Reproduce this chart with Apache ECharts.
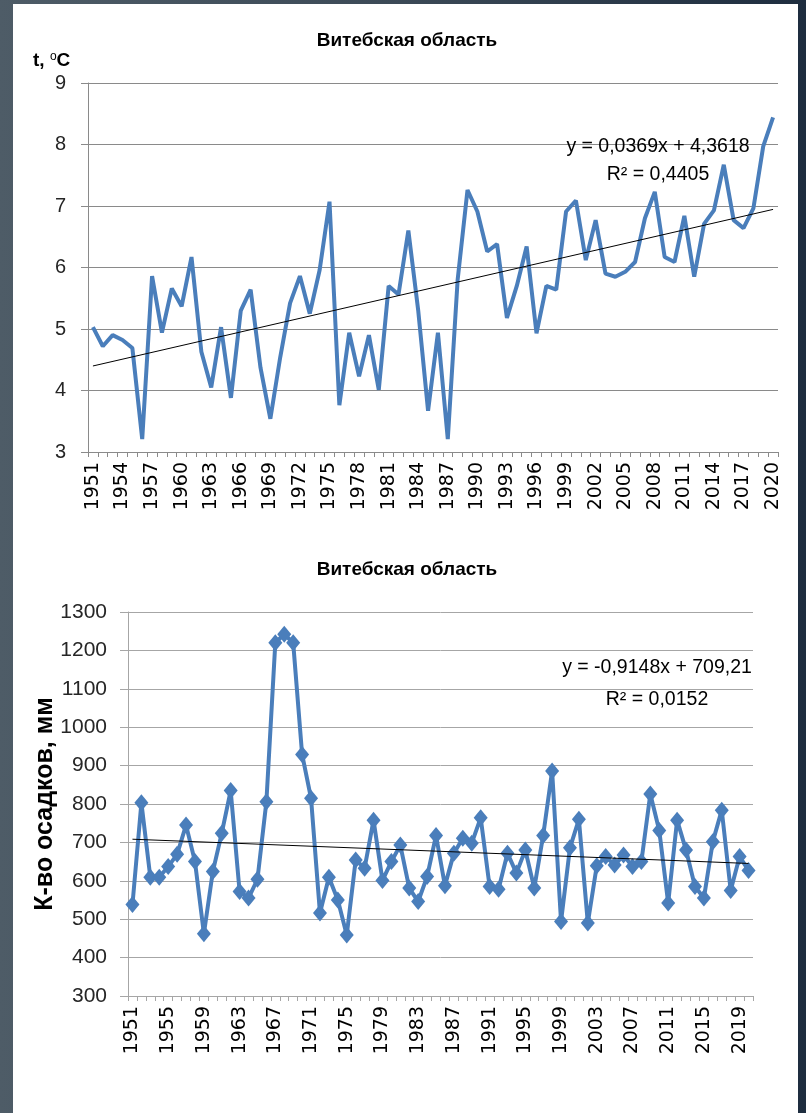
<!DOCTYPE html>
<html><head><meta charset="utf-8">
<script src="https://cdn.jsdelivr.net/npm/echarts@6/dist/echarts.min.js"></script>
<style>
html,body{margin:0;padding:0;width:806px;height:1113px;overflow:hidden;}
body{background:linear-gradient(90deg,#4e5c67 0%,#3b4956 50%,#1e2d3f 100%);position:relative;}
#panel{position:absolute;left:13px;top:4px;width:785px;height:1109px;background:#fff;}
#chart{position:absolute;left:0;top:0;width:806px;height:1113px;}
</style></head><body><div id="panel"></div><div id="chart"></div>
<script>
const years = ['1951','1952','1953','1954','1955','1956','1957','1958','1959','1960',
  '1961','1962','1963','1964','1965','1966','1967','1968','1969','1970',
  '1971','1972','1973','1974','1975','1976','1977','1978','1979','1980',
  '1981','1982','1983','1984','1985','1986','1987','1988','1989','1990',
  '1991','1992','1993','1994','1995','1996','1997','1998','1999','2000',
  '2001','2002','2003','2004','2005','2006','2007','2008','2009','2010',
  '2011','2012','2013','2014','2015','2016','2017','2018','2019','2020'];

const tempValues = [5.03, 4.72, 4.90, 4.82, 4.69, 3.21, 5.86, 4.94, 5.66, 5.37,
  6.17, 4.63, 4.05, 5.03, 3.88, 5.30, 5.64, 4.37, 3.54, 4.54,
  5.42, 5.86, 5.25, 5.96, 7.07, 3.76, 4.94, 4.23, 4.90, 4.01,
  5.70, 5.56, 6.60, 5.30, 3.67, 4.94, 3.21, 5.80, 7.26, 6.91,
  6.26, 6.38, 5.18, 5.70, 6.34, 4.93, 5.70, 5.64, 6.91, 7.09,
  6.12, 6.77, 5.90, 5.85, 5.93, 6.09, 6.80, 7.23, 6.17, 6.09,
  6.84, 5.85, 6.71, 6.93, 7.67, 6.77, 6.64, 6.96, 7.97, 8.44];

const precipValues = [538, 803, 609, 609, 637, 669, 745, 650, 462, 624,
  724, 835, 572, 555, 604, 806, 1220, 1242, 1220, 929,
  815, 516, 609, 550, 459, 654, 633, 758, 601, 650,
  693, 581, 546, 611, 718, 587, 672, 711, 698, 764,
  585, 578, 672, 620, 680, 581, 718, 886, 494, 686,
  760, 490, 639, 663, 641, 667, 637, 650, 826, 731,
  542, 758, 680, 585, 555, 702, 784, 575, 663, 627];

const titleText = 'Витебская область';
const tempAxisName = ['t, ', 'o', 'C'];
const precipAxisName = 'К-во осадков, мм';
const tempTrend = {slope: 0.0369, intercept: 4.3618};
const precipTrend = {slope: -0.9148, intercept: 709.21};
const tempEquation = ['y = 0,0369x + 4,3618', 'R² = 0,4405'];
const precipEquation = ['y = -0,9148x + 709,21', 'R² = 0,0152'];

function trendData(t) {
  const n = years.length;
  const d = years.map(() => null);
  d[0] = t.intercept + t.slope * 1;
  d[n - 1] = t.intercept + t.slope * n;
  return d;
}

const SANS = '"Liberation Sans", Arial, sans-serif';
const WIDE = '"DejaVu Sans", Verdana, sans-serif';
const GRID_COLOR = '#8a8a8a';
const GRID_COLOR2 = '#a6a6a6';
const BLUE = '#4a7ebb';

const chart = echarts.init(document.getElementById('chart'), null, {renderer: 'canvas'});

function xAxisCfg(gridIndex, labelInterval, color) {
  return {
    type: 'category', gridIndex, data: years, boundaryGap: true,
    axisLine: {show: true, lineStyle: {color: color, width: 1}},
    axisTick: {show: true, interval: 0, length: 5, lineStyle: {color: color}},
    axisLabel: {interval: labelInterval, rotate: 90, fontFamily: WIDE, fontSize: 19, color: '#000', margin: 10},
    splitLine: {show: false}
  };
}

const option = {
  animation: false,
  backgroundColor: 'transparent',
  title: [
    {text: titleText, left: 402, top: 26, textAlign: 'center',
     textStyle: {fontFamily: SANS, fontWeight: 'bold', fontSize: 19, color: '#000'}},
    {text: titleText, left: 402, top: 555, textAlign: 'center',
     textStyle: {fontFamily: SANS, fontWeight: 'bold', fontSize: 19, color: '#000'}}
  ],
  grid: [
    {left: 88, top: 83, width: 690, height: 369, containLabel: false},
    {left: 128, top: 612, width: 625, height: 384, containLabel: false}
  ],
  xAxis: [xAxisCfg(0, 2, GRID_COLOR), xAxisCfg(1, 3, GRID_COLOR2)],
  yAxis: [
    {type: 'value', gridIndex: 0, min: 3, max: 9, interval: 1,
     axisLine: {show: true, lineStyle: {color: GRID_COLOR}},
     axisTick: {show: true, length: 7, lineStyle: {color: GRID_COLOR}},
     splitLine: {show: true, lineStyle: {color: GRID_COLOR, width: 1}},
     axisLabel: {fontFamily: SANS, fontSize: 20, color: '#262626', margin: 22}},
    {type: 'value', gridIndex: 1, min: 300, max: 1300, interval: 100,
     name: precipAxisName, nameLocation: 'middle', nameGap: 70, nameRotate: 90, nameMoveOverlap: false,
     nameTextStyle: {fontFamily: SANS, fontWeight: 'bold', fontSize: 25, color: '#000'},
     axisLine: {show: true, lineStyle: {color: GRID_COLOR2}},
     axisTick: {show: true, length: 8, lineStyle: {color: GRID_COLOR2}},
     splitLine: {show: true, lineStyle: {color: GRID_COLOR2, width: 1}},
     axisLabel: {fontFamily: SANS, fontSize: 21, color: '#262626', margin: 21,
       formatter: function (v) { return String(v); }}}
  ],
  series: [
    {type: 'line', xAxisIndex: 0, yAxisIndex: 0, data: tempValues, symbol: 'none',
     lineStyle: {color: BLUE, width: 4}, z: 3},
    {type: 'line', xAxisIndex: 0, yAxisIndex: 0, data: trendData(tempTrend), symbol: 'none',
     connectNulls: true, lineStyle: {color: '#000', width: 1}, z: 4},
    {type: 'line', xAxisIndex: 1, yAxisIndex: 1, data: precipValues, symbol: 'diamond', symbolSize: [14, 17],
     showAllSymbol: true,
     itemStyle: {color: BLUE}, lineStyle: {color: BLUE, width: 4}, z: 3},
    {type: 'line', xAxisIndex: 1, yAxisIndex: 1, data: trendData(precipTrend), symbol: 'none',
     connectNulls: true, lineStyle: {color: '#000', width: 1}, z: 4}
  ],
  graphic: [
    {type: 'text', x: 33, y: 61, z: 10, style: {
      text: '{a|' + tempAxisName[0] + '}{s|' + tempAxisName[1] + '}{a|' + tempAxisName[2] + '}',
      verticalAlign: 'middle',
      rich: {
        a: {fontFamily: SANS, fontWeight: 'bold', fontSize: 19, fill: '#000'},
        s: {fontFamily: SANS, fontSize: 12, fill: '#000', verticalAlign: 'top', padding: [0, 0, 8, 0]}
      }}},
    {type: 'text', x: 658, y: 147, z: 10, style: {text: tempEquation[0], align: 'center', verticalAlign: 'middle',
      font: '19.5px ' + SANS, fill: '#000'}},
    {type: 'text', x: 658, y: 175, z: 10, style: {text: tempEquation[1], align: 'center', verticalAlign: 'middle',
      font: '19.5px ' + SANS, fill: '#000'}},
    {type: 'text', x: 657, y: 668, z: 10, style: {text: precipEquation[0], align: 'center', verticalAlign: 'middle',
      font: '19.5px ' + SANS, fill: '#000'}},
    {type: 'text', x: 657, y: 700, z: 10, style: {text: precipEquation[1], align: 'center', verticalAlign: 'middle',
      font: '19.5px ' + SANS, fill: '#000'}}
  ]
};
chart.setOption(option);
</script></body></html>
